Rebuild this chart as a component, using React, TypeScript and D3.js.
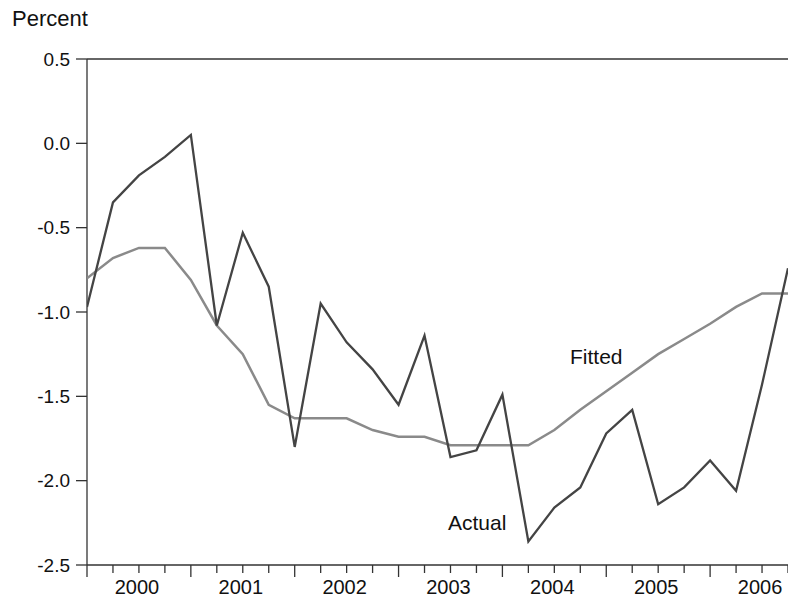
import React from 'react';
import * as d3 from 'd3';

const years = ['2000', '2001', '2002', '2003', '2004', '2005', '2006'];
const actual = [-0.97, -0.35, -0.19, -0.08, 0.05, -1.08, -0.53, -0.85, -1.8, -0.95, -1.18, -1.34, -1.55, -1.14,
  -1.86, -1.82, -1.49, -2.36, -2.16, -2.04, -1.72, -1.58, -2.14, -2.04, -1.88, -2.06, -1.43, -0.74];
const fitted = [-0.8, -0.68, -0.62, -0.62, -0.81, -1.08, -1.25, -1.55, -1.63, -1.63, -1.63, -1.7, -1.74, -1.74,
  -1.79, -1.79, -1.79, -1.79, -1.7, -1.58, -1.47, -1.36, -1.25, -1.16, -1.07, -0.97, -0.89, -0.89];
const yTicks = [0.5, 0.0, -0.5, -1.0, -1.5, -2.0, -2.5];

export default function App() {
  const W = 788, H = 602;
  const left = 87, right = 788, top = 59, bottom = 565;
  const x = d3.scaleLinear().domain([0, 27]).range([left, right]);
  const y = d3.scaleLinear().domain([-2.5, 0.5]).range([bottom, top]);
  const line = d3.line<number>().x((_, i) => x(i)).y(d => y(d));
  const font = "'Liberation Sans', Arial, sans-serif";
  return (
    <svg width={W} height={H} style={{ position: 'absolute', left: 0, top: 0, background: '#fff' }}>
      <defs>
        <clipPath id="c"><rect x={left} y={top - 5} width={right - left + 2} height={bottom - top + 10} /></clipPath>
      </defs>
      <text x={12} y={26} fontFamily={font} fontSize={22} fill="#111">Percent</text>
      <line x1={left} x2={right} y1={top} y2={top} stroke="#333" strokeWidth={1.3} />
      <line x1={left} x2={left} y1={top} y2={bottom} stroke="#333" strokeWidth={1.3} />
      <line x1={left} x2={right} y1={bottom} y2={bottom} stroke="#333" strokeWidth={1.3} />
      {yTicks.map(t => (
        <g key={t}>
          <line x1={left - 11} x2={left} y1={y(t)} y2={y(t)} stroke="#333" strokeWidth={1.3} />
          <text x={left - 17} y={y(t)} dy="0.35em" textAnchor="end" fontFamily={font} fontSize={19} fill="#111">
            {t.toFixed(1)}
          </text>
        </g>
      ))}
      {d3.range(28).map(i => (
        <line key={i} x1={x(i)} x2={x(i)} y1={bottom} y2={bottom + (i % 4 === 0 ? 12 : 8)} stroke="#333" strokeWidth={1.3} />
      ))}
      {years.map((yr, k) => (
        <text key={yr} x={(x(k * 4) + x(k * 4 + 4)) / 2 - 2} y={594} textAnchor="middle" fontFamily={font} fontSize={20} fill="#111">
          {yr}
        </text>
      ))}
      <g clipPath="url(#c)" fill="none" strokeLinejoin="miter">
        <path d={line(fitted) ?? ''} stroke="#8a8a8a" strokeWidth={2.5} />
        <path d={line(actual) ?? ''} stroke="#444" strokeWidth={2.3} />
      </g>
      <text x={570} y={364} fontFamily={font} fontSize={21} fill="#111">Fitted</text>
      <text x={448} y={530} fontFamily={font} fontSize={21} fill="#111">Actual</text>
    </svg>
  );
}
